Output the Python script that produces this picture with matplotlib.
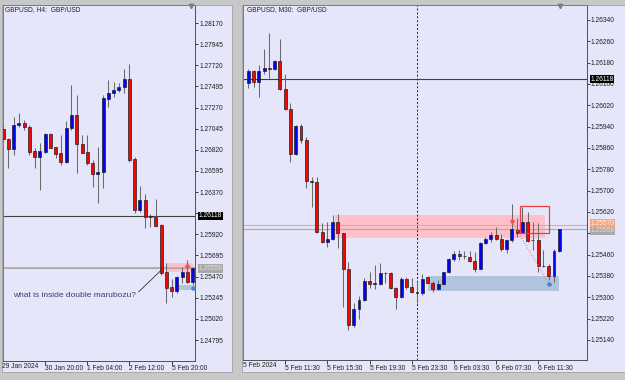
import matplotlib
matplotlib.use("Agg")
import matplotlib.pyplot as plt
from matplotlib.patches import Rectangle
import numpy as np

plt.rcParams["font.family"] = ["Liberation Sans", "DejaVu Sans"]

# ---- GBPUSD H4 ----
h4_open = [1.27038, 1.26932, 1.26829, 1.27084, 1.27109, 1.27066, 1.26807, 1.26747, 1.26800, 1.26985,
           1.26847, 1.26783, 1.26693, 1.27049, 1.27191, 1.26882, 1.26794, 1.26683, 1.26559, 1.26587,
           1.27364, 1.27428, 1.27457, 1.27492, 1.27571, 1.26719, 1.26179, 1.26286, 1.26118, 1.26108,
           1.26019, 1.25522, 1.25356, 1.25320, 1.25463, 1.25522, 1.25416]
h4_high = [1.27084, 1.26946, 1.27172, 1.27215, 1.27137, 1.27084, 1.26836, 1.26889, 1.26996, 1.26996,
           1.26853, 1.26978, 1.27130, 1.27510, 1.27404, 1.26978, 1.26978, 1.26712, 1.26853, 1.27404,
           1.27563, 1.27545, 1.27535, 1.27680, 1.27730, 1.26740, 1.26435, 1.26350, 1.26133, 1.26296,
           1.26030, 1.25612, 1.25441, 1.25476, 1.25569, 1.25647, 1.25569]
h4_low = [1.26903, 1.26626, 1.26765, 1.27066, 1.27031, 1.26765, 1.26623, 1.26392, 1.26783, 1.26836,
          1.26730, 1.26658, 1.26676, 1.27031, 1.26576, 1.26783, 1.26658, 1.26427, 1.26250, 1.26410,
          1.27279, 1.27385, 1.27439, 1.27422, 1.26693, 1.26144, 1.26161, 1.25984, 1.25995, 1.26001,
          1.25487, 1.25186, 1.25256, 1.25292, 1.25399, 1.25399, 1.25381]
h4_close = [1.26932, 1.26829, 1.27084, 1.27109, 1.27060, 1.26800, 1.26747, 1.26807, 1.26985, 1.26842,
            1.26772, 1.26687, 1.27052, 1.27191, 1.26879, 1.26789, 1.26676, 1.26559, 1.26587, 1.27368,
            1.27428, 1.27457, 1.27492, 1.27571, 1.26712, 1.26179, 1.26286, 1.26108, 1.26101, 1.26009,
            1.25505, 1.25352, 1.25320, 1.25463, 1.25522, 1.25416, 1.25558]
h4_price_ticks = [1.24795, 1.25020, 1.25245, 1.25470, 1.25695, 1.25920, 1.26145, 1.26370,
                  1.26595, 1.26820, 1.27045, 1.27270, 1.27495, 1.27720, 1.27945, 1.28170]
h4_hidden_ticks = [1.26145]   # covered by the price tag in the terminal
h4_time_ticks = [8, 16, 24, 32]
h4_time_labels = ["30 Jan 20:00", "1 Feb 04:00", "2 Feb 12:00", "5 Feb 20:00"]

# ---- GBPUSD M30 ----
m30_open = [1.26105, 1.26150, 1.26108, 1.26149, 1.26159, 1.26155, 1.26186, 1.26082, 1.26005, 1.25838,
            1.25943, 1.25890, 1.25736, 1.25731, 1.25546, 1.25509, 1.25519, 1.25584, 1.25540, 1.25406,
            1.25196, 1.25256, 1.25290, 1.25362, 1.25351, 1.25350, 1.25390, 1.25390, 1.25334, 1.25302,
            1.25368, 1.25338, 1.25319, 1.25316, 1.25375, 1.25355, 1.25330, 1.25350, 1.25394, 1.25444,
            1.25463, 1.25456, 1.25452, 1.25435, 1.25406, 1.25503, 1.25518, 1.25534, 1.25518, 1.25480,
            1.25515, 1.25553, 1.25542, 1.25584, 1.25515, 1.25514, 1.25418, 1.25419, 1.25380, 1.25473]
m30_high = [1.26155, 1.26153, 1.26171, 1.26230, 1.26290, 1.26190, 1.26268, 1.26138, 1.26028, 1.25945,
            1.25950, 1.25902, 1.25752, 1.25750, 1.25578, 1.25584, 1.25609, 1.25613, 1.25542, 1.25434,
            1.25279, 1.25305, 1.25371, 1.25396, 1.25421, 1.25430, 1.25396, 1.25396, 1.25340, 1.25375,
            1.25377, 1.25371, 1.25359, 1.25386, 1.25377, 1.25362, 1.25365, 1.25396, 1.25446, 1.25475,
            1.25478, 1.25474, 1.25474, 1.25471, 1.25506, 1.25527, 1.25546, 1.25563, 1.25536, 1.25518,
            1.25650, 1.25596, 1.25640, 1.25621, 1.25584, 1.25580, 1.25478, 1.25425, 1.25480, 1.25558]
m30_low = [1.26084, 1.26090, 1.26052, 1.26138, 1.26121, 1.26153, 1.26078, 1.26003, 1.25809, 1.25835,
           1.25878, 1.25709, 1.25640, 1.25542, 1.25503, 1.25490, 1.25515, 1.25484, 1.25265, 1.25178,
           1.25189, 1.25219, 1.25287, 1.25334, 1.25330, 1.25346, 1.25354, 1.25331, 1.25255, 1.25299,
           1.25330, 1.25315, 1.25280, 1.25309, 1.25353, 1.25319, 1.25328, 1.25346, 1.25390, 1.25437,
           1.25440, 1.25444, 1.25431, 1.25396, 1.25405, 1.25500, 1.25509, 1.25515, 1.25475, 1.25465,
           1.25509, 1.25527, 1.25540, 1.25506, 1.25478, 1.25396, 1.25413, 1.25365, 1.25359, 1.25470]
m30_close = [1.26150, 1.26108, 1.26149, 1.26159, 1.26155, 1.26186, 1.26082, 1.26005, 1.25838, 1.25943,
             1.25890, 1.25736, 1.25731, 1.25546, 1.25509, 1.25519, 1.25584, 1.25540, 1.25406, 1.25196,
             1.25256, 1.25290, 1.25362, 1.25350, 1.25353, 1.25390, 1.25392, 1.25334, 1.25302, 1.25368,
             1.25338, 1.25319, 1.25316, 1.25368, 1.25355, 1.25330, 1.25350, 1.25394, 1.25444, 1.25463,
             1.25456, 1.25454, 1.25435, 1.25406, 1.25503, 1.25518, 1.25534, 1.25518, 1.25480, 1.25515,
             1.25555, 1.25542, 1.25584, 1.25512, 1.25514, 1.25418, 1.25419, 1.25380, 1.25473, 1.25558]
m30_price_ticks = [1.25140, 1.25220, 1.25300, 1.25380, 1.25460, 1.25540, 1.25620, 1.25700,
                   1.25780, 1.25860, 1.25940, 1.26020, 1.26100, 1.26180, 1.26260, 1.26340]
m30_hidden_ticks = [1.25540]
m30_time_ticks = [7, 15, 23, 31, 39, 47, 55]
m30_time_labels = ["5 Feb 11:30", "5 Feb 15:30", "5 Feb 19:30", "5 Feb 23:30",
                   "6 Feb 03:30", "6 Feb 07:30", "6 Feb 11:30"]

# levels and drawn objects (prices)
level_line = 1.26118
bid = 1.25558
ask = 1.25570
supply_zone = (1.25521, 1.25610)
demand_zone = (1.25323, 1.25379)
red_box = (1.25541, 1.25643)
mark_top = 1.25585
mark_bottom = 1.25350

LAV = "#e6e6fa"
FS = 4.8


def candles(ax, o, h, l, c):
    o, h, l, c = map(np.asarray, (o, h, l, c))
    x = np.arange(len(o))
    up = c >= o
    ax.vlines(x, l, h, color="#6a6a6a", lw=0.75, zorder=3)
    ax.bar(x, np.maximum(np.abs(c - o), 1e-6), bottom=np.minimum(o, c), width=0.56,
           color=np.where(up, "#0000ff", "#ff0000"), edgecolor="#202020", lw=0.5, zorder=4)


def price_tag(ax, y, text, fc, tc, dy=0):
    ax.annotate(text, xy=(1, y), xycoords=ax.get_yaxis_transform(), xytext=(2.6, dy),
                textcoords="offset points", va="center", ha="left", fontsize=FS, color=tc,
                bbox=dict(boxstyle="square,pad=0.1", fc=fc, ec="none"), zorder=10,
                annotation_clip=False)


def setup(ax, xlim, ylim, pticks, hidden, tticks, tlabels, first_label, title, tri_x):
    ax.set_facecolor(LAV)
    ax.set_xlim(*xlim)
    ax.set_ylim(*ylim)
    ax.yaxis.tick_right()
    ax.set_yticks(pticks)
    ax.set_yticklabels(["" if p in hidden else "%.5f" % p for p in pticks])
    ax.set_xticks(tticks)
    ax.set_xticklabels(tlabels)
    for lbl in ax.get_xticklabels():
        lbl.set_ha("left")
    ax.tick_params(axis="both", labelsize=FS, colors="#202020", width=0.6)
    ax.tick_params(axis="y", length=2.2, pad=0.8)
    ax.tick_params(axis="x", length=2.6, pad=0.8)
    for s in ax.spines.values():
        s.set_color("#7a7a7a")
        s.set_linewidth(0.7)
    ax.spines["right"].set_color("#505050")
    ax.spines["bottom"].set_color("#505050")
    ax.text(0.0, -0.006, first_label, transform=ax.transAxes, fontsize=FS, color="#202020",
            ha="left", va="top")
    ax.text(0.012, 0.987, title, transform=ax.transAxes, fontsize=FS, color="#202020",
            ha="left", va="center", zorder=10)
    ax.plot([tri_x], [0.996], marker="v", ms=3.2, color="#808080", transform=ax.transAxes,
            clip_on=False, zorder=10)


fig = plt.figure(figsize=(6.25, 3.8), dpi=100, facecolor="#c8c8c8")
W, H = 625.0, 380.0
for x0, x1 in [(2, 232), (242, 625)]:
    fig.add_artist(Rectangle((x0 / W, 8 / H), (x1 - x0) / W, 367 / H, transform=fig.transFigure,
                             fc=LAV, ec="#a0a0a0", lw=0.6, zorder=0))

# ---- left chart ----
axl = fig.add_axes([2.5 / W, 19.5 / H, 192.5 / W, 355.5 / H])
setup(axl, (-0.1, 36.45), (1.24577, 1.28362), h4_price_ticks, h4_hidden_ticks, h4_time_ticks,
      h4_time_labels, "29 Jan 2024", "GBPUSD, H4:  GBP/USD", 0.979)
axl.add_patch(Rectangle((30.95, supply_zone[0]), 5.1, supply_zone[1] - supply_zone[0],
                        fc="#ffc0cb", ec="none", zorder=1))
axl.add_patch(Rectangle((33.0, demand_zone[0]), 3.06, demand_zone[1] - demand_zone[0],
                        fc="#b0c4de", ec="none", zorder=1))
axl.axhline(level_line, color="#404040", lw=0.8, zorder=2)
axl.axhline(ask, color="#f4a582", lw=0.8, zorder=2)
axl.axhline(bid, color="#a9a9a9", lw=0.8, zorder=2)
candles(axl, h4_open, h4_high, h4_low, h4_close)
axl.plot([35], [mark_top], marker="o", ms=2.2, color="#ff5050", zorder=6)
axl.plot([35], [mark_top], marker="+", ms=3.5, mew=0.6, color="#ff5050", zorder=6)
axl.plot([36], [mark_bottom], marker="o", ms=2.2, color="#5080d0", zorder=6)
axl.plot([36], [mark_bottom], marker="+", ms=3.5, mew=0.6, color="#5080d0", zorder=6)
axl.plot([25.76, 30.06], [1.25309, 1.25540], color="#303030", lw=0.6, zorder=6)
axl.text(1.97, 1.25274, "what is inside double marubozu?", fontsize=6, color="#3c3c70",
         ha="left", va="center", zorder=7)
price_tag(axl, level_line, "1.26118", "black", "white")
price_tag(axl, bid, "1.25558", "#a9a9a9", "#e0e0e0")

# ---- right chart ----
axr = fig.add_axes([243.3 / W, 20 / H, 343.4 / W, 355 / H])
setup(axr, (-0.95, 64.2), (1.25065, 1.26396), m30_price_ticks, m30_hidden_ticks, m30_time_ticks,
      m30_time_labels, "5 Feb 2024", "GBPUSD, M30:  GBP/USD", 0.922)
axr.add_patch(Rectangle((16.45, supply_zone[0]), 39.75, supply_zone[1] - supply_zone[0],
                        fc="#ffc0cb", ec="none", zorder=1))
axr.add_patch(Rectangle((34.04, demand_zone[0]), 24.96, demand_zone[1] - demand_zone[0],
                        fc="#b0c4de", ec="none", zorder=1))
axr.axvline(32, color="#202020", lw=0.7, ls=(0, (2, 2)), zorder=2)
axr.axhline(level_line, color="#404040", lw=0.8, zorder=2)
axr.axhline(ask, color="#f4a582", lw=0.8, zorder=2)
axr.axhline(bid, color="#a9a9a9", lw=0.8, zorder=2)
candles(axr, m30_open, m30_high, m30_low, m30_close)
axr.add_patch(Rectangle((51.55, red_box[0]), 5.5, red_box[1] - red_box[0],
                        fc="none", ec="#e84040", lw=0.9, zorder=5))
axr.plot([50, 57], [mark_top, mark_bottom], color="#f08080", lw=0.8, ls=(0, (1, 1.5)), zorder=5)
axr.plot([50], [mark_top], marker="o", ms=2.2, color="#ff5050", zorder=6)
axr.plot([50], [mark_top], marker="+", ms=3.5, mew=0.6, color="#ff5050", zorder=6)
axr.plot([57], [mark_bottom], marker="o", ms=2.2, color="#5080d0", zorder=6)
axr.plot([57], [mark_bottom], marker="+", ms=3.5, mew=0.6, color="#5080d0", zorder=6)
price_tag(axr, level_line, "1.26118", "black", "white")
price_tag(axr, ask, "1.25570", "#f4a582", "#fff0e8", dy=1.6)
price_tag(axr, bid, "1.25558", "#a9a9a9", "#e0e0e0", dy=-1.6)

fig.savefig("out.png", dpi=100, facecolor=fig.get_facecolor())
